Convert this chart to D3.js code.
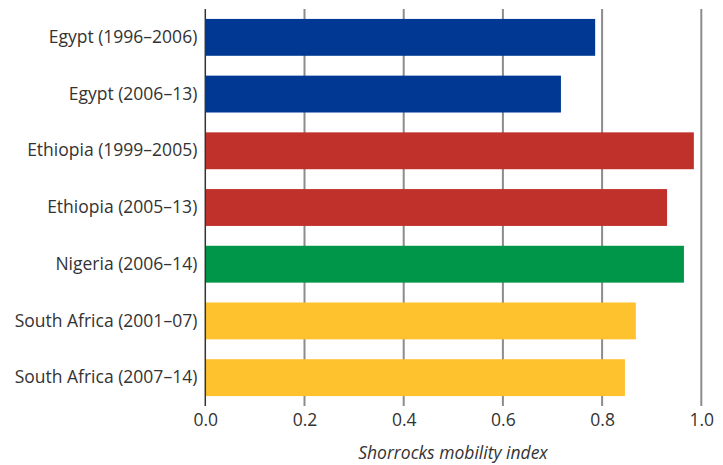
<!DOCTYPE html>
<html><head><meta charset="utf-8">
<script src="https://cdn.jsdelivr.net/npm/d3@7"></script>
<style>body{margin:0;background:#fff}svg{display:block}</style>
</head><body>
<script>
const categories = ["Egypt (1996–2006)","Egypt (2006–13)","Ethiopia (1999–2005)","Ethiopia (2005–13)","Nigeria (2006–14)","South Africa (2001–07)","South Africa (2007–14)"];
const values = [0.786,0.717,0.985,0.931,0.965,0.868,0.846];
const countries = ["Egypt","Egypt","Ethiopia","Ethiopia","Nigeria","South Africa","South Africa"];
const countryNames = ["Egypt","Ethiopia","Nigeria","South Africa"];
const countryColors = ["#003893","#c1312c","#009649","#fdc22e"];
const xTicks = [0,0.2,0.4,0.6,0.8,1.0];
const axisTitle = "Shorrocks mobility index";

const W=723,H=465;
const svg=d3.select("body").append("svg").attr("width",W).attr("height",H);
const font="'Open Sans', sans-serif";
const fs=17.5;
const x=d3.scaleLinear().domain([0,1]).range([205.3,701.3]);
const y=d3.scaleBand().domain(categories).range([9,406]).paddingInner(0.35).paddingOuter(0.175);
const color=d3.scaleOrdinal().domain(countryNames).range(countryColors);

// gridlines
svg.append("g").selectAll("line").data(xTicks.filter(d=>d>0)).join("line")
  .attr("x1",d=>x(d)).attr("x2",d=>x(d)).attr("y1",9).attr("y2",406)
  .attr("stroke","#8c8c8c").attr("stroke-width",2);

// bars
svg.append("g").selectAll("rect").data(categories).join("rect")
  .attr("x",x(0)).attr("y",d=>y(d)).attr("height",y.bandwidth())
  .attr("width",(d,i)=>x(values[i])-x(0))
  .attr("fill",(d,i)=>color(countries[i]));

// zero axis line
svg.append("line").attr("x1",x(0)).attr("x2",x(0)).attr("y1",9).attr("y2",406)
  .attr("stroke","#333").attr("stroke-width",1.5);

// y labels
const ya=svg.append("g").attr("transform",`translate(${x(0)},0)`)
  .call(d3.axisLeft(y).tickSize(0).tickPadding(8));
ya.select(".domain").remove();
ya.selectAll("text").attr("font-family",font).attr("font-size",fs).attr("fill","#333");

// x labels
const xa=svg.append("g").attr("transform","translate(0,406)")
  .call(d3.axisBottom(x).tickValues(xTicks).tickFormat(d3.format(".1f")).tickSize(0).tickPadding(8));
xa.select(".domain").remove();
xa.selectAll("text").attr("font-family",font).attr("font-size",fs).attr("fill","#333");

svg.append("text").attr("x",453).attr("y",459).attr("text-anchor","middle")
  .attr("font-family",font).attr("font-size",fs).attr("font-style","italic").attr("fill","#333")
  .text(axisTitle);
</script>
</body></html>
